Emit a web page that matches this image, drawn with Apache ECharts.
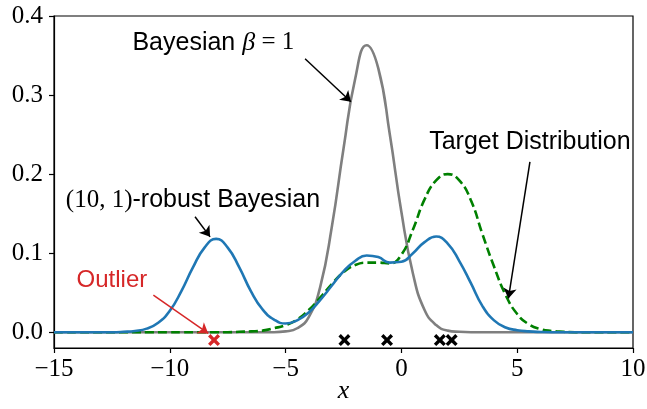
<!DOCTYPE html>
<html>
<head>
<meta charset="utf-8">
<script src="https://cdn.jsdelivr.net/npm/echarts@6/dist/echarts.min.js"></script>
<style>
html, body { margin: 0; padding: 0; background: #fff; }
#main { width: 647px; height: 409px; }
</style>
</head>
<body>
<div id="main"></div>
<script>
// x positions where the curves were read (step 0.5)
var xs = [-15, -14.5, -14, -13.5, -13, -12.5, -12, -11.5, -11, -10.5, -10, -9.5, -9, -8.5, -8, -7.5, -7, -6.5, -6, -5.5,
  -5, -4.5, -4, -3.5, -3, -2.5, -2, -1.5, -1, -0.5, 0, 0.5, 1, 1.5, 2, 2.5, 3, 3.5, 4, 4.5,
  5, 5.5, 6, 6.5, 7, 7.5, 8, 8.5, 9, 9.5, 10]

// Bayesian beta = 1 (grey)
var bayes = [0, 0, 0, 0, 0, 0, 0, 0, 0, 0, 0, 0, 0, 0, 0, 0, 0, 0, 0, 0,
  0.001, 0.005, 0.019, 0.058, 0.134, 0.232, 0.320, 0.363, 0.334, 0.250,
  0.152, 0.074, 0.028, 0.009, 0.002, 0.0005,
  0, 0, 0, 0, 0, 0, 0, 0, 0, 0, 0, 0, 0, 0, 0]

// (10,1)-robust Bayesian (blue)
var robust = [0, 0, 0, 0, 0, 0,
  0.0005, 0.0016, 0.0045, 0.012, 0.027, 0.052, 0.082, 0.107, 0.118, 0.107,
  0.082, 0.052, 0.029, 0.016, 0.011, 0.015, 0.025, 0.041, 0.059, 0.077,
  0.090, 0.097, 0.095, 0.088, 0.089, 0.100, 0.114, 0.121, 0.112, 0.090,
  0.062, 0.033, 0.015, 0.006, 0.0025, 0.001, 0.0003,
  0, 0, 0, 0, 0, 0, 0, 0]

// target distribution (green dashed)
var target = [0, 0, 0, 0, 0, 0, 0, 0, 0, 0, 0, 0, 0, 0, 0, 0,
  0.0005, 0.001, 0.002, 0.005, 0.009, 0.016, 0.028, 0.044, 0.061, 0.076,
  0.085, 0.088, 0.088, 0.087, 0.098, 0.130, 0.168, 0.192, 0.200, 0.192,
  0.167, 0.124, 0.083, 0.047, 0.023, 0.010, 0.004, 0.0015, 0.0005,
  0, 0, 0, 0, 0, 0]

// observed samples and the outlier
var samplesX = [-2.46, -0.62, 1.66, 2.17]
var outlierX = [-8.09]
var markY = -0.01

var yTicks = [0, 0.1, 0.2, 0.3, 0.4]

function pairs (x, y) {
  return x.map(function (v, i) { return [v, y[i]] })
}

var cross = 'path://M0,2L2,0L5,3L8,0L10,2L7,5L10,8L8,10L5,7L2,10L0,8L3,5Z'
var serif = 'Liberation Serif'
var sans = 'Liberation Sans'
var rich = {
  s: { fontFamily: sans, fontSize: 25, color: '#000' },
  m: { fontFamily: serif, fontSize: 25, color: '#000' },
  mi: { fontFamily: serif, fontSize: 26, fontStyle: 'italic', color: '#000' },
  r: { fontFamily: sans, fontSize: 24, color: '#d62728' }
}

function note (x, y, text) {
  return { coord: [x, y], value: text, label: { formatter: text } }
}

function arrow (a, b, color) {
  return [
    { coord: a, lineStyle: { color: color, width: 1.5, type: 'solid' } },
    { coord: b }
  ]
}

var chart = echarts.init(document.getElementById('main'))
chart.setOption({
  animation: false,
  grid: {
    left: 54, top: 16, right: 14, bottom: 61,
    show: true, borderColor: '#000', borderWidth: 1.2,
    outerBoundsMode: 'none'
  },
  xAxis: {
    type: 'value', min: -15, max: 10, interval: 5,
    axisLine: { onZero: false, lineStyle: { color: '#000', width: 1.2 } },
    axisTick: { length: 5, lineStyle: { color: '#000', width: 1.2 } },
    axisLabel: {
      margin: 9, color: '#000', fontFamily: serif, fontSize: 25,
      formatter: function (v) { return String(v).replace('-', '\u2212') }
    },
    splitLine: { show: false },
    name: 'x', nameLocation: 'middle', nameGap: 30, nameMoveOverlap: false,
    nameTextStyle: { fontFamily: serif, fontStyle: 'italic', fontSize: 26, color: '#000' }
  },
  yAxis: {
    type: 'value', min: -0.02, max: 0.4,
    axisLine: { show: true, onZero: false, lineStyle: { color: '#000', width: 1.2 } },
    axisTick: { show: true, length: 5, customValues: yTicks, lineStyle: { color: '#000', width: 1.2 } },
    axisLabel: {
      margin: 11, color: '#000', fontFamily: serif, fontSize: 25, customValues: yTicks,
      formatter: function (v) { return v.toFixed(1) }
    },
    splitLine: { show: false }
  },
  series: [
    {
      name: 'bayes', type: 'line', data: pairs(xs, bayes), smooth: true, showSymbol: false,
      lineStyle: { color: '#7f7f7f', width: 2.6 }, z: 2
    },
    {
      name: 'target', type: 'line', data: pairs(xs, target), smooth: true, showSymbol: false,
      lineStyle: { color: '#008000', width: 2.6, type: [9, 4] }, z: 3
    },
    {
      name: 'robust', type: 'line', data: pairs(xs, robust), smooth: true, showSymbol: false,
      lineStyle: { color: '#1f77b4', width: 2.6 }, z: 4,
      // arrows for the annotations
      markLine: {
        silent: true, symbol: ['none', 'arrow'], symbolSize: 10,
        label: { show: false },
        data: [
          arrow([-4.16, 0.346], [-2.18, 0.2915], '#000'),
          arrow([-8.91, 0.146], [-8.26, 0.1206], '#000'),
          arrow([-10.71, 0.0468], [-8.34, -0.0016], '#d62728'),
          arrow([5.55, 0.2156], [4.62, 0.0427], '#000')
        ]
      },
      markPoint: {
        silent: true, symbol: 'circle', symbolSize: 0,
        label: { show: true, position: 'inside', rich: rich },
        data: [
          note(-8.12, 0.366, '{s|Bayesian }{mi|β}{m| = 1}'),
          note(-9.0, 0.167, '{m|(10, 1)}{s|-robust Bayesian}'),
          note(-12.5, 0.066, '{r|Outlier}'),
          note(5.55, 0.240, '{s|Target Distribution}')
        ]
      }
    },
    {
      name: 'samples', type: 'scatter', symbol: cross, symbolSize: 12,
      data: samplesX.map(function (v) { return [v, markY] }),
      itemStyle: { color: '#000', opacity: 1 }, z: 5
    },
    {
      name: 'outlier', type: 'scatter', symbol: cross, symbolSize: 12,
      data: outlierX.map(function (v) { return [v, markY] }),
      itemStyle: { color: '#d62728', opacity: 1 }, z: 5
    }
  ]
})
</script>
</body>
</html>
